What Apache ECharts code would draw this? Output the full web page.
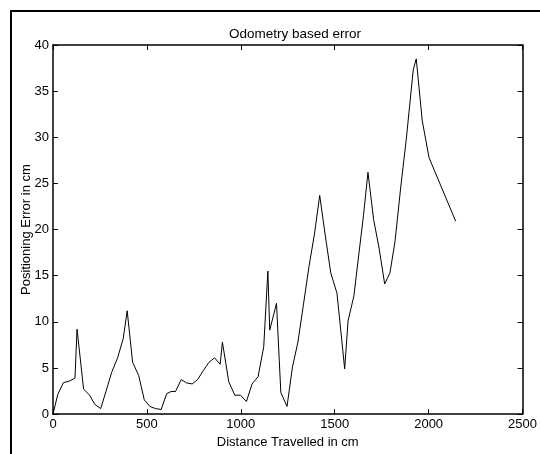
<!DOCTYPE html>
<html lang="en">
<head>
    <meta charset="UTF-8">
    <title>Odometry based error</title>
    <script src="https://cdn.jsdelivr.net/npm/echarts@6/dist/echarts.min.js"></script>
    <style>
        html, body { margin: 0; padding: 0; background: #fff; }
    </style>
</head>
<body>

<div id="main" style="width: 540px;height:454px;"></div>

<script type="text/javascript">
    // distance travelled (cm) and positioning error (cm)
    var distance = [0, 25, 55, 90, 117, 128, 163, 193, 223, 254,
        282, 312, 344, 374, 395, 424, 456, 486, 516, 546,
        576, 605, 629, 652, 683, 711, 741, 770, 800, 830,
        860, 890, 902, 936, 968, 998, 1030, 1060, 1092, 1122,
        1144, 1154, 1190, 1213, 1246, 1275, 1304, 1333, 1363, 1392,
        1420, 1450, 1479, 1512, 1553, 1571, 1602, 1630, 1653, 1677,
        1707, 1736, 1766, 1794, 1821, 1851, 1881, 1918, 1934, 1966,
        2002, 2144];
    var error = [0, 2.1, 3.4, 3.6, 3.9, 9.2, 2.7, 2.1, 1.05, 0.6,
        2.45, 4.5, 6.1, 8.2, 11.2, 5.6, 4.2, 1.55, 0.83, 0.6,
        0.5, 2.2, 2.45, 2.45, 3.74, 3.38, 3.27, 3.74, 4.7, 5.6,
        6.1, 5.4, 7.8, 3.5, 2.05, 2.05, 1.37, 3.27, 4.06, 7.3,
        15.5, 9.1, 12.0, 2.34, 0.83, 5.1, 7.8, 11.8, 16.0, 19.5,
        23.7, 19.3, 15.3, 13.1, 4.9, 10.1, 12.8, 17.6, 21.5, 26.2,
        21.1, 18.0, 14.1, 15.3, 18.7, 24.5, 29.8, 37.3, 38.5, 31.8,
        27.8, 20.9];

    var points = [];
    for (var i = 0; i < distance.length; i++) {
        points.push([distance[i], error[i]]);
    }

    var font = 'Liberation Sans, Arial, sans-serif';
    var axisLine = { show: true, onZero: false, lineStyle: { color: '#000', width: 1.5 } };
    var tick = { show: true, inside: true, length: 5, lineStyle: { color: '#000', width: 1 } };
    var plain = function (v) { return String(v); };

    var myChart = echarts.init(document.getElementById('main'));

    var option = {
        animation: false,
        backgroundColor: '#fff',
        title: {
            text: 'Odometry based error',
            left: 290,
            top: 22,
            textAlign: 'center',
            textStyle: { fontFamily: font, fontSize: 13.5, fontWeight: 'normal', color: '#000' }
        },
        graphic: [{
            type: 'rect',
            shape: { x: 11, y: 11, width: 600, height: 500 },
            style: { fill: null, stroke: '#000', lineWidth: 2 },
            silent: true
        }],
        grid: {
            left: 53,
            top: 45,
            right: 17,
            bottom: 38
        },
        xAxis: [{
            type: 'value',
            min: 0,
            max: 2500,
            interval: 500,
            name: 'Distance Travelled in cm',
            nameLocation: 'middle',
            nameGap: 19,
            nameTextStyle: { fontFamily: font, fontSize: 13, color: '#000' },
            axisLine: axisLine,
            axisTick: tick,
            axisLabel: { fontFamily: font, fontSize: 13, color: '#000', margin: 4, formatter: plain },
            splitLine: { show: false }
        }, {
            type: 'value',
            position: 'top',
            min: 0,
            max: 2500,
            interval: 500,
            axisLine: axisLine,
            axisTick: tick,
            axisLabel: { show: false },
            splitLine: { show: false }
        }],
        yAxis: [{
            type: 'value',
            min: 0,
            max: 40,
            interval: 5,
            name: 'Positioning Error in cm',
            nameLocation: 'middle',
            nameGap: 20,
            nameMoveOverlap: false,
            nameTextStyle: { fontFamily: font, fontSize: 13, color: '#000' },
            axisLine: axisLine,
            axisTick: tick,
            axisLabel: { fontFamily: font, fontSize: 13, color: '#000', margin: 4, formatter: plain },
            splitLine: { show: false }
        }, {
            type: 'value',
            position: 'right',
            min: 0,
            max: 40,
            interval: 5,
            axisLine: axisLine,
            axisTick: tick,
            axisLabel: { show: false },
            splitLine: { show: false }
        }],
        series: [{
            name: 'Odometry error',
            type: 'line',
            data: points,
            showSymbol: false,
            symbol: 'none',
            lineStyle: { color: '#000', width: 1 }
        }]
    };

    myChart.setOption(option);
</script>
</body>
</html>
